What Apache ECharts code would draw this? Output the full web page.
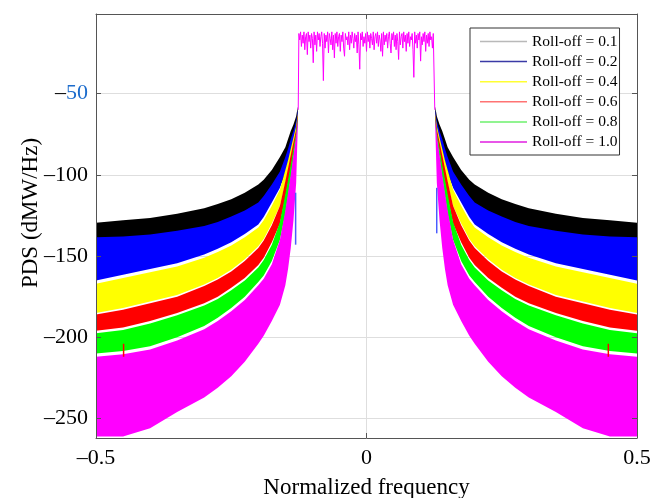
<!DOCTYPE html>
<html>
<head>
<meta charset="utf-8">
<script src="https://cdn.jsdelivr.net/npm/echarts@6/dist/echarts.min.js"></script>
<style>
  html, body { margin: 0; padding: 0; background: #fff; }
  #chart { width: 661px; height: 498px; }
</style>
</head>
<body>
<div id="chart"></div>
<script>
// Spectrum skirts are symmetric: values are listed for |f| and drawn on both sides.
const skirtFreq = [0.127, 0.13, 0.135, 0.14, 0.145, 0.15, 0.16, 0.175, 0.19, 0.2,
                   0.225, 0.25, 0.275, 0.3, 0.35, 0.4, 0.45, 0.5];

// Upper / lower envelopes (dBm/Hz) of each roll-off's out-of-band ripple
const top01 = [-58, -64, -69, -73, -78, -83, -89, -97, -103, -106, -111, -115, -118, -120.5, -124, -126.5, -128, -129.5];
const bot01 = [-66, -75, -82, -88, -94, -100, -107, -115, -122, -126, -131.5, -136, -139.5, -142, -146, -148, -150, -151];
const top02 = [-60, -67, -73, -78, -84, -89, -98, -106, -113, -117, -122, -125.6, -129, -131.5, -134.5, -136.8, -138, -138.5];
const bot02 = [-64, -72, -79, -86, -92, -98, -108, -117, -126, -130.5, -136.5, -141.5, -145.5, -149, -154.5, -158, -161.5, -165];
const top04 = [-62, -70, -77, -84, -91, -97, -109, -119, -128, -132.5, -138.5, -143.5, -147.5, -151, -156.5, -160, -163.5, -167];
const bot04 = [-66, -74, -82, -90, -98, -105, -119, -130, -139.5, -144, -152, -158.5, -163.5, -167.5, -174, -178, -182, -185];
const top06 = [-63, -72, -80, -88, -96, -104, -119, -131, -140.5, -145, -153, -159.5, -164.5, -168.5, -175, -179, -183, -186];
const bot06 = [-67, -76, -86, -96, -105, -114, -130, -141.5, -151, -155.5, -163.5, -169.5, -175, -179, -185, -190, -194, -196];
const top08 = [-64, -74, -84, -94, -103, -112, -129, -143, -152.5, -157, -165, -171, -176.5, -180.5, -186.5, -191.5, -195.5, -197.5];
const bot08 = [-68, -78, -90, -102, -113, -124, -140, -153, -162, -166, -175, -182, -188, -193, -200, -205.5, -208.5, -210];
const top10 = [-65, -76, -88, -100, -111, -122, -140, -155, -164, -168, -177, -184, -190, -195, -202, -207.5, -210.5, -212];
const bot10 = [-70, -105, -128, -145, -158, -168, -180, -190, -199, -204, -215, -224, -231, -237, -246, -256, -261, -261];

// In-band spectrum (roll-off 1.0), sampled every 0.0015625 from -0.125
const passStart = -0.125;
const passStep = 0.0015625;
const passLevel = [
  -13, -17, -12, -21, -14, -19, -12, -23, -15, -13,
  -26, -12, -18, -14, -22, -13, -16, -31, -12, -20,
  -14, -24, -12, -17, -13, -21, -15, -12, -19, -42,
  -13, -22, -14, -18, -12, -25, -13, -16, -20, -12,
  -23, -14, -28, -13, -19, -12, -21, -15, -13, -24,
  -14, -18, -12, -22, -27, -13, -17, -15, -20, -12,
  -23, -14, -19, -12, -16, -22, -13, -18, -14, -25,
  -12, -20, -35, -13, -17, -12, -21, -15, -19, -13,
  -24, -12, -18, -14, -22, -13, -16, -20, -12, -23,
  -15, -13, -19, -12, -21, -14, -17, -24, -13, -27,
  -12, -20, -14, -18, -13, -22, -15, -12, -19, -25,
  -13, -17, -12, -21, -14, -23, -13, -18, -29, -12,
  -20, -15, -13, -22, -12, -18, -14, -24, -13, -19,
  -12, -21, -15, -17, -13, -23, -40, -12, -19, -14,
  -22, -13, -17, -12, -30, -15, -20, -13, -18, -12,
  -24, -14, -19, -13, -21, -12, -17, -15, -22, -13,
  -14
];
// Band edges where the passband drops into the skirts
const edgeFreq = [-0.1262, 0.1262];
const edgeLevel = [-60, -60];

// Isolated spikes visible over the skirts
const spike02Freq = [-0.131, 0.1298];
const spike02Top = [-111, -108];
const spike02Bot = [-143, -136];
const spike06Freq = [-0.449, 0.447];
const spike06Top = [-204, -204];
const spike06Bot = [-212, -212];

const rollOffs = ['0.1', '0.2', '0.4', '0.6', '0.8', '1.0'];
const fillColors = ['#000000', '#0000ff', '#ffff00', '#ff0000', '#00ff00', '#ff00ff'];
const legendColors = ['#b9b9b9', '#3a3aa6', '#ffff33', '#ff7373', '#6cf06c', '#e01ee0'];
const yTicks = [-50, -100, -150, -200, -250];

const FONT = '"Liberation Serif", "Times New Roman", serif';
const names = rollOffs.map(r => 'Roll-off = ' + r);

function bandSeries(name, color, top, bot) {
  return {
    type: 'custom',
    name: name,
    coordinateSystem: 'cartesian2d',
    silent: true,
    itemStyle: { color: color },
    data: [[0, -100]],
    renderItem: function (params, api) {
      const side = function (s) {
        const pts = [];
        for (let i = 0; i < skirtFreq.length; i++) pts.push(api.coord([s * skirtFreq[i], top[i]]));
        for (let i = skirtFreq.length - 1; i >= 0; i--) pts.push(api.coord([s * skirtFreq[i], bot[i]]));
        return { type: 'polygon', shape: { points: pts }, style: { fill: color, stroke: null } };
      };
      return { type: 'group', children: [side(-1), side(1)] };
    }
  };
}

function spikeSeries(name, color, freq, top, bot) {
  return {
    type: 'custom',
    name: name,
    coordinateSystem: 'cartesian2d',
    silent: true,
    itemStyle: { color: color },
    data: freq.map((f, i) => [f, top[i], bot[i]]),
    renderItem: function (params, api) {
      const a = api.coord([api.value(0), api.value(1)]);
      const b = api.coord([api.value(0), api.value(2)]);
      return {
        type: 'line',
        shape: { x1: a[0], y1: a[1], x2: b[0], y2: b[1] },
        style: { stroke: color, lineWidth: 1.5 }
      };
    }
  };
}

const passData = [[edgeFreq[0], edgeLevel[0]]];
passLevel.forEach((v, i) => passData.push([passStart + i * passStep, v]));
passData.push([edgeFreq[1], edgeLevel[1]]);

const tops = [top01, top02, top04, top06, top08, top10];
const bots = [bot01, bot02, bot04, bot06, bot08, bot10];

const series = names.map((n, i) => bandSeries(n, fillColors[i], tops[i], bots[i]));
series.push({
  type: 'line',
  name: names[5],
  data: passData,
  showSymbol: false,
  silent: true,
  lineStyle: { color: '#ff00ff', width: 1 },
  itemStyle: { color: '#ff00ff' }
});
series.push(spikeSeries(names[1], '#4a5cff', spike02Freq, spike02Top, spike02Bot));
series.push(spikeSeries(names[3], '#ff0000', spike06Freq, spike06Top, spike06Bot));

const axisColor = '#555555';
const gridColor = '#dedede';

function frameAxis(pos, extra) {
  return Object.assign({
    type: 'value', position: pos, z: 10,
    axisLine: { show: true, onZero: false, lineStyle: { color: axisColor, width: 1 } },
    axisTick: { show: true, inside: true, length: 5, lineStyle: { color: axisColor } },
    axisLabel: { show: false },
    splitLine: { show: false }
  }, extra);
}

const chart = echarts.init(document.getElementById('chart'));
chart.setOption({
  animation: false,
  backgroundColor: '#ffffff',
  grid: { left: 96, right: 24, top: 14, bottom: 60, containLabel: false, outerBoundsMode: 'none' },
  xAxis: [
    frameAxis('bottom', {
      min: -0.5, max: 0.5, interval: 0.5,
      axisLabel: {
        margin: 9, color: '#000', fontFamily: FONT, fontSize: 22,
        formatter: v => (v < 0 ? '\u2013' + (-v) : String(v))
      },
      name: 'Normalized frequency', nameLocation: 'middle', nameGap: 38,
      nameTextStyle: { color: '#000', fontFamily: FONT, fontSize: 23 }
    }),
    frameAxis('top', { min: -0.5, max: 0.5, interval: 0.5 }),
    {
      type: 'value', min: -0.5, max: 0.5, interval: 0.5, position: 'bottom',
      axisLine: { show: false, onZero: false }, axisTick: { show: false }, axisLabel: { show: false },
      splitLine: { show: true, lineStyle: { color: gridColor, width: 1 } }
    }
  ],
  yAxis: [
    frameAxis('left', {
      min: -262, max: -1, splitNumber: 5,
      axisLabel: {
        margin: 8, color: '#000', fontFamily: FONT, fontSize: 22,
        formatter: function (v) {
          if (yTicks.indexOf(v) < 0) return '';
          return v === -50 ? '\u2013{b|50}' : '\u2013' + (-v);
        },
        rich: { b: { color: '#1c6ccc', fontFamily: FONT, fontSize: 22 } }
      }
    }),
    frameAxis('right', { min: -262, max: -1, splitNumber: 5 }),
    {
      type: 'value', min: -262, max: -1, splitNumber: 5, position: 'left',
      axisLine: { show: false, onZero: false }, axisTick: { show: false }, axisLabel: { show: false },
      splitLine: { show: true, lineStyle: { color: gridColor, width: 1 } }
    }
  ],
  legend: {
    orient: 'vertical', left: 470, top: 28, z: 20,
    padding: [5.5, 2, 5, 10], itemGap: 4.1, itemWidth: 47, itemHeight: 1.5,
    borderColor: '#333', borderWidth: 1, backgroundColor: '#fff',
    selectedMode: false,
    textStyle: { fontFamily: FONT, fontSize: 15.5, color: '#000', lineHeight: 16 },
    data: names.map((n, i) => ({ name: n, icon: 'rect', itemStyle: { color: legendColors[i] } }))
  },
  graphic: [{
    type: 'text', x: 31, y: 213, rotation: Math.PI / 2, silent: true,
    style: {
      text: 'PDS (dMW/Hz)', fill: '#000', font: '23px ' + FONT,
      align: 'center', verticalAlign: 'middle'
    }
  }],
  series: series
});
</script>
</body>
</html>
